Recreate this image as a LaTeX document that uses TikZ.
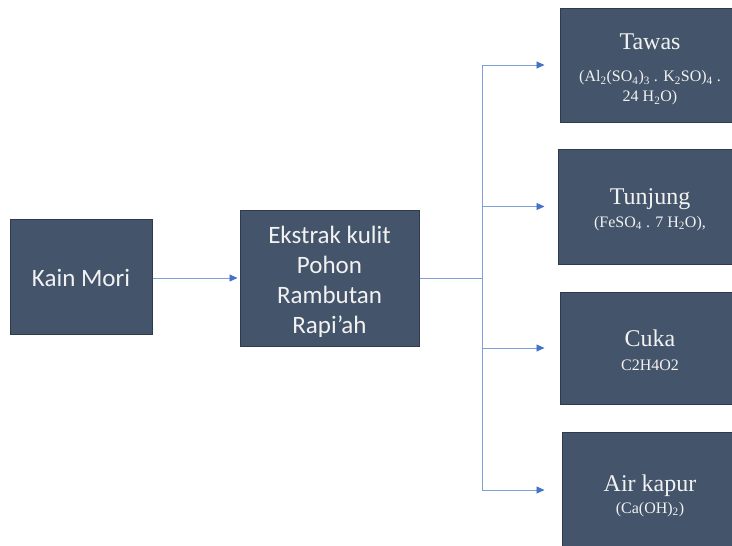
\documentclass[tikz,border=0pt]{standalone}
\usepackage{fontspec}
\newfontfamily\calib{Carlito}
\newfontfamily\tnr{Liberation Serif}
\usetikzlibrary{arrows.meta}
\definecolor{boxfill}{HTML}{44546A}
\definecolor{boxedge}{HTML}{2F3B4C}
\definecolor{arrcol}{HTML}{4472C4}
\definecolor{linecol}{HTML}{7F9FD8}
\definecolor{txt}{HTML}{F2F2F2}
\tikzset{
  darkbox/.style={draw=boxedge, line width=1pt, fill=boxfill, inner sep=0pt},
  sanstext/.style={text=txt, align=center, inner sep=0pt, font=\calib\fontsize{25}{30}\selectfont},
  seriftext/.style={text=txt, align=center, inner sep=0pt, font=\tnr\fontsize{16}{20}\selectfont},
  conn/.style={draw=linecol, line width=0.9pt},
  arr/.style={conn, -{Triangle[length=8pt,width=7pt,color=arrcol]}},
}
\newcommand{\bigline}[1]{{\fontsize{24}{24}\selectfont #1}}
\begin{document}
\begin{tikzpicture}[x=1pt,y=-1pt]
\useasboundingbox (0,0) rectangle (732,546);
\clip (0,0) rectangle (732,546);
\fill[white] (0,0) rectangle (732,546);
% boxes
\node[darkbox, minimum width=142pt, minimum height=115pt] (kain) at (81,276.5) {};
\node[darkbox, minimum width=179pt, minimum height=136pt] (ekstrak) at (329.5,278) {};
\node[darkbox, minimum width=180pt, minimum height=114pt] (tawas) at (650,65) {};
\node[darkbox, minimum width=184pt, minimum height=115pt] (tunjung) at (650,206.5) {};
\node[darkbox, minimum width=180pt, minimum height=112pt] (cuka) at (650,348) {};
\node[darkbox, minimum width=176pt, minimum height=116pt] (air) at (650,490) {};
% texts
\node[sanstext] (kainT) at ([yshift=-1.6pt]kain.center) {Kain Mori};
\node[sanstext] (ekstrakT) at ([yshift=-4pt]ekstrak.center) {Ekstrak kulit\\Pohon\\Rambutan\\Rapi’ah};
\node[seriftext] (tawasT) at ([yshift=-4.8pt]tawas.center)
  {\bigline{Tawas}\\[12pt]
   (Al\textsubscript{2}(SO\textsubscript{4})\textsubscript{3} . K\textsubscript{2}SO)\textsubscript{4} .\\
   24 H\textsubscript{2}O)};
\node[seriftext] (tunjungT) at ([yshift=-2.8pt]tunjung.center)
  {\bigline{Tunjung}\\[3pt]
   (FeSO\textsubscript{4} . 7 H\textsubscript{2}O),};
\node[seriftext] (cukaT) at ([yshift=-1.9pt]cuka.center)
  {\bigline{Cuka}\\[4pt]
   C2H4O2};
\node[seriftext] (airT) at ([yshift=-5.7pt]air.center)
  {\bigline{Air kapur}\\[2pt]
   (Ca(OH)\textsubscript{2})};
% connectors
\coordinate (junc) at (482,278);
\coordinate (jtop) at (482,65);
\coordinate (jbot) at (482,490);
\draw[arr, shorten >=2pt] (kain.east |- ekstrak.west) -- (ekstrak.west);
\draw[conn] (ekstrak.east) -- (junc);
\draw[conn] (jtop) -- (jbot);
\draw[arr, shorten >=15pt] (jtop) -- (tawas.west |- jtop);
\draw[arr, shorten >=13pt] (junc |- tunjung.west) -- (tunjung.west);
\draw[arr, shorten >=15pt] (junc |- cuka.west) -- (cuka.west);
\draw[arr, shorten >=17pt] (jbot) -- (air.west |- jbot);
\end{tikzpicture}
\end{document}
